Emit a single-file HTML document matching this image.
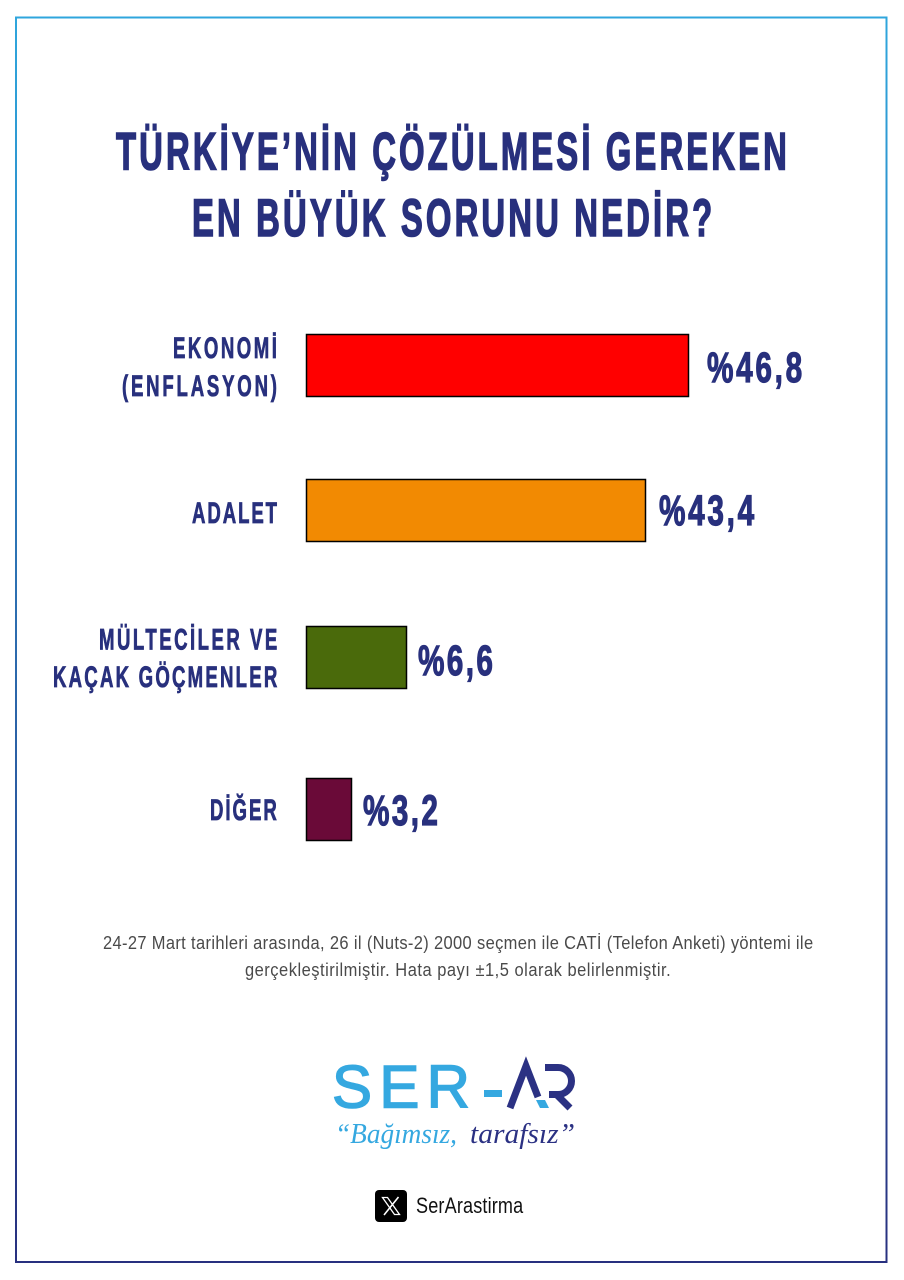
<!DOCTYPE html>
<html>
<head>
<meta charset="utf-8">
<style>
  html,body{margin:0;padding:0;background:#fff;}
  svg{display:block;}
  .t{font-family:"Liberation Sans",sans-serif;font-weight:bold;fill:#28307d;}
</style>
</head>
<body>
<svg width="904" height="1280" viewBox="0 0 904 1280" xmlns="http://www.w3.org/2000/svg">
  <defs>
    <linearGradient id="bg" gradientUnits="userSpaceOnUse" x1="0" y1="17" x2="0" y2="1262">
      <stop offset="0" stop-color="#2fa6dd"/>
      <stop offset="1" stop-color="#28307f"/>
    </linearGradient>
  </defs>
  <rect x="0" y="0" width="904" height="1280" fill="#fff"/>
  <rect x="16" y="17.5" width="870.5" height="1244.5" fill="none" stroke="url(#bg)" stroke-width="2"/>

  <!-- Title -->
  <text class="t" font-size="53" stroke="#28307d" stroke-width="1.6" transform="translate(116,169.5) scale(0.62,1)" textLength="1082" lengthAdjust="spacing">TÜRKİYE’NİN ÇÖZÜLMESİ GEREKEN</text>
  <text class="t" font-size="53" stroke="#28307d" stroke-width="1.6" transform="translate(192,236) scale(0.62,1)" textLength="839" lengthAdjust="spacing">EN BÜYÜK SORUNU NEDİR?</text>

  <!-- Labels -->
  <text class="t" font-size="29.5" stroke="#28307d" stroke-width="0.8" transform="translate(173,358) scale(0.63,1)" textLength="165" lengthAdjust="spacing">EKONOMİ</text>
  <text class="t" font-size="29.5" stroke="#28307d" stroke-width="0.8" transform="translate(122,396) scale(0.63,1)" textLength="246" lengthAdjust="spacing">(ENFLASYON)</text>
  <text class="t" font-size="29.5" stroke="#28307d" stroke-width="0.8" transform="translate(192,523) scale(0.63,1)" textLength="135" lengthAdjust="spacing">ADALET</text>
  <text class="t" font-size="29.5" stroke="#28307d" stroke-width="0.8" transform="translate(99,649.5) scale(0.63,1)" textLength="283" lengthAdjust="spacing">MÜLTECİLER VE</text>
  <text class="t" font-size="29.5" stroke="#28307d" stroke-width="0.8" transform="translate(53,687) scale(0.63,1)" textLength="356" lengthAdjust="spacing">KAÇAK GÖÇMENLER</text>
  <text class="t" font-size="29.5" stroke="#28307d" stroke-width="0.8" transform="translate(210,820) scale(0.63,1)" textLength="106" lengthAdjust="spacing">DİĞER</text>

  <!-- Bars -->
  <rect x="306.5" y="334.5" width="382" height="62" fill="#ff0000" stroke="#000" stroke-width="1.5"/>
  <rect x="306.5" y="479.5" width="339" height="62" fill="#f28a02" stroke="#000" stroke-width="1.5"/>
  <rect x="306.5" y="626.5" width="100" height="62" fill="#4a6a0b" stroke="#000" stroke-width="1.5"/>
  <rect x="306.5" y="778.5" width="45" height="62" fill="#6a0a38" stroke="#000" stroke-width="1.5"/>

  <!-- Values -->
  <text class="t" font-size="42.5" stroke="#28307d" stroke-width="1.2" transform="translate(707,382) scale(0.7,1)" textLength="136" lengthAdjust="spacing">%46,8</text>
  <text class="t" font-size="42.5" stroke="#28307d" stroke-width="1.2" transform="translate(659,525) scale(0.7,1)" textLength="136" lengthAdjust="spacing">%43,4</text>
  <text class="t" font-size="42.5" stroke="#28307d" stroke-width="1.2" transform="translate(418,675) scale(0.7,1)" textLength="107" lengthAdjust="spacing">%6,6</text>
  <text class="t" font-size="42.5" stroke="#28307d" stroke-width="1.2" transform="translate(363,825) scale(0.7,1)" textLength="107" lengthAdjust="spacing">%3,2</text>

  <!-- Footnote -->
  <text font-family="'Liberation Sans',sans-serif" font-size="18.3" fill="#4a4a4a" transform="translate(103,949) scale(0.9,1)" textLength="789" lengthAdjust="spacing">24-27 Mart tarihleri arasında, 26 il (Nuts-2) 2000 seçmen ile CATİ (Telefon Anketi) yöntemi ile</text>
  <text font-family="'Liberation Sans',sans-serif" font-size="18.3" fill="#4a4a4a" transform="translate(245,976) scale(0.9,1)" textLength="473" lengthAdjust="spacing">gerçekleştirilmiştir. Hata payı ±1,5 olarak belirlenmiştir.</text>

  <!-- Logo SER-AR -->
  <text font-family="'Liberation Sans',sans-serif" font-size="60" fill="#35a8e0" stroke="#35a8e0" stroke-width="1.5" x="332" y="1107.5" textLength="138" lengthAdjust="spacing">SER</text>
  <rect x="484" y="1090" width="18" height="7" fill="#35a8e0"/>
  <polyline points="510,1108 526,1066 538,1097" fill="none" stroke="#2b3183" stroke-width="7" stroke-linejoin="miter"/>
  <polygon points="536,1100 545,1100 549,1108 540,1108" fill="#35a8e0"/>
  <path d="M545 1067.5 H558 A13.5 13.5 0 0 1 558 1094.5 H549 M556 1094 L570 1108" fill="none" stroke="#2b3183" stroke-width="7"/>

  <!-- Tagline -->
  <text font-family="'Liberation Serif',serif" font-style="italic" font-size="29" fill="#35a8e0" x="335" y="1143" textLength="122" lengthAdjust="spacingAndGlyphs">“Bağımsız,</text>
  <text font-family="'Liberation Serif',serif" font-style="italic" font-size="29" fill="#2b3183" x="470" y="1143" textLength="105" lengthAdjust="spacingAndGlyphs">tarafsız”</text>

  <!-- X icon -->
  <rect x="375" y="1190" width="32" height="32" rx="4" fill="#000"/>
  <path d="M382.5 1197.5 H387.5 L399.5 1214.5 H394.5 Z" fill="none" stroke="#fff" stroke-width="1.3"/>
  <line x1="398.5" y1="1197" x2="384" y2="1215" stroke="#fff" stroke-width="1.6"/>
  <text font-family="'Liberation Sans',sans-serif" font-size="22.6" fill="#111" transform="translate(416,1213) scale(0.8,1)" textLength="134" lengthAdjust="spacing">SerArastirma</text>
</svg>
</body>
</html>
